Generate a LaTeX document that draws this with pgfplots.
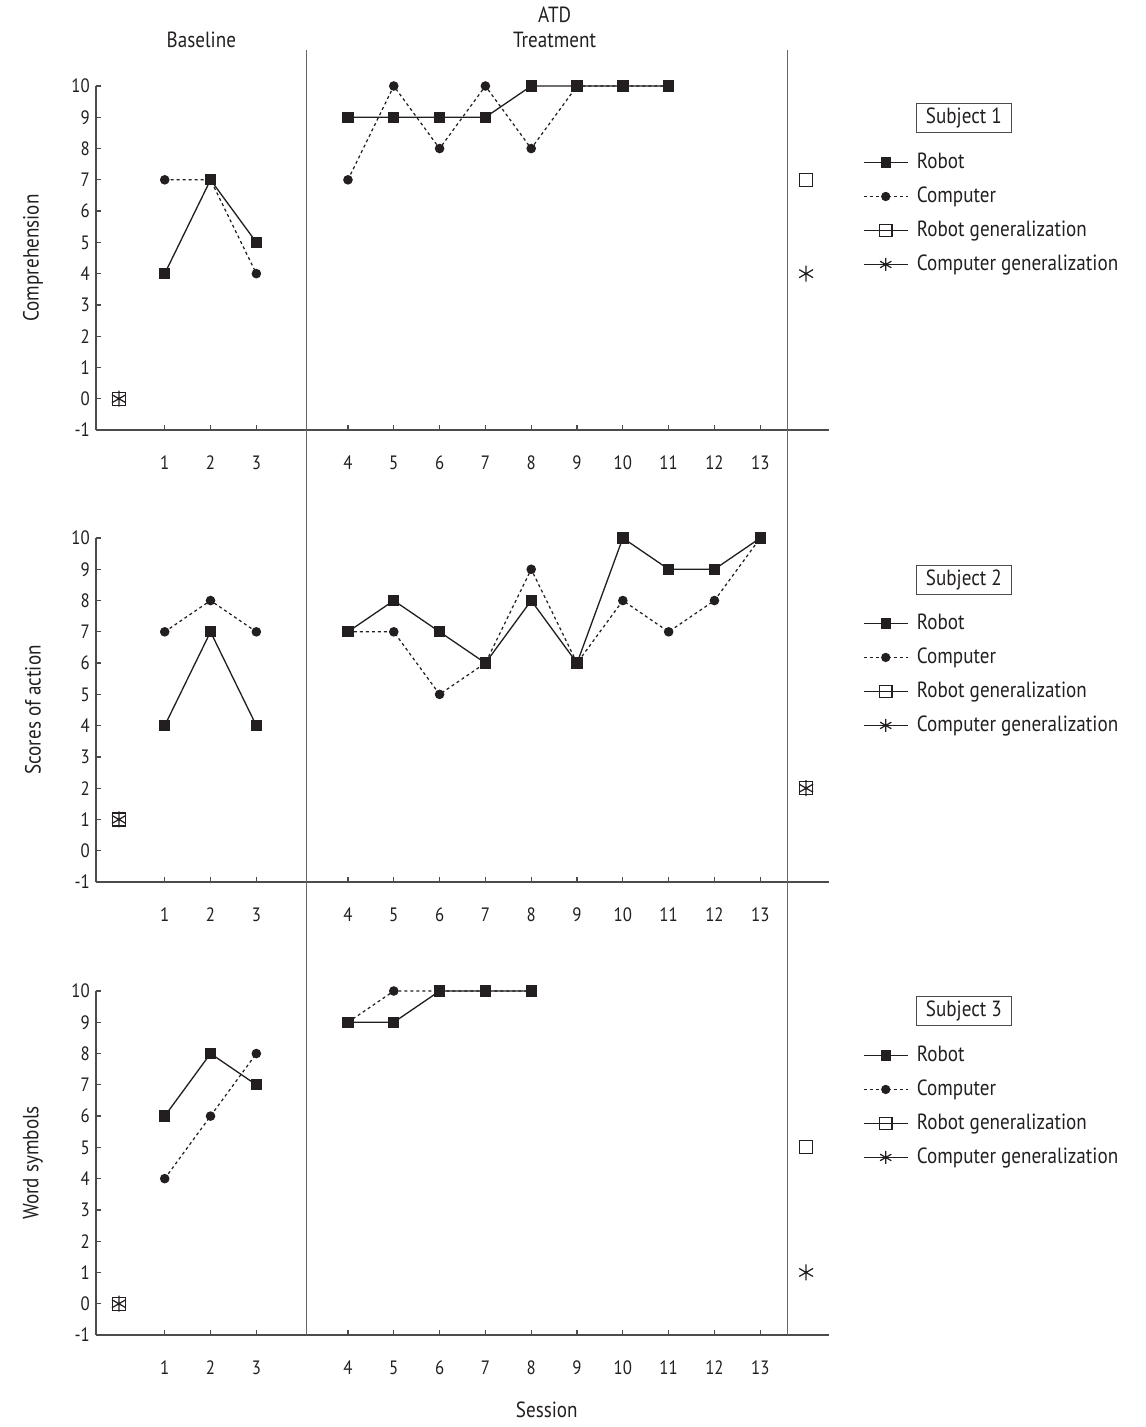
\documentclass[border=0pt]{standalone}
\usepackage{fontspec}
\setmainfont{PT Sans}[FakeStretch=0.87]
\usepackage{pgfplots}
\pgfplotsset{compat=1.18}

\definecolor{axgray}{gray}{0.3}
\definecolor{divgray}{gray}{0.4}
\definecolor{ink}{HTML}{231F20}

\pgfplotsset{
  panel/.style={
    scale only axis, width=14.66cm, height=6.88cm,
    xmin=-0.5, xmax=15.5, ymin=-1, ymax=10,
    axis x line=bottom, axis y line=left,
    axis line style={-, axgray, line width=0.8pt},
    tick align=inside, major tick length=0.1cm,
    tick style={axgray, line width=0.7pt},
    xtick={1,2,3,5,6,7,8,9,10,11,12,13,14},
    xticklabels={1,2,3,4,5,6,7,8,9,10,11,12,13},
    ytick={-1,0,1,2,3,4,5,6,7,8,9,10},
    yticklabels={-1,0,1,2,3,4,5,6,7,8,9,10},
    ticklabel style={font=\fontsize{11}{12}\selectfont, text=ink},
    xticklabel style={yshift=-0.4cm},
    clip=false,
    label style={font=\fontsize{12.5}{14}\selectfont, text=ink},
    ylabel style={at={(axis description cs:-0.086,0.5)}, anchor=center},
    legend cell align=left,
    legend style={draw=none, fill=none, anchor=north west, inner sep=0pt,
      font=\fontsize{12.5}{14}\selectfont, text=ink, row sep=0.18cm,
      nodes={text height=0.32cm, text depth=0.08cm, inner sep=0.05cm},
      /tikz/every odd column/.append style={column sep=0.12cm}},
  },
  robot/.style={ink, line width=0.75pt, mark=square*, mark size=0.1cm, mark options={solid}},
  comp/.style={ink, line width=0.7pt, dash pattern=on 0.06cm off 0.06cm, mark=*, mark size=0.083cm, mark options={solid}},
  rgen/.style={ink, only marks, mark=square, mark size=0.13cm, mark options={line width=0.7pt}},
  cgen/.style={ink, only marks, mark=asterisk, mark size=0.16cm, mark options={line width=0.7pt}},
  legimg/.style={legend image code/.code={%
    \draw[mark repeat=2, mark phase=2, ##1] plot coordinates {(0cm,0cm) (0.44cm,0cm) (0.88cm,0cm)};}},
}

\newcommand{\subjbox}[2]{\node[draw=axgray, line width=0.6pt, minimum width=1.9cm, minimum height=0.58cm, inner sep=0pt, text=ink, font=\fontsize{12.5}{14}\selectfont] at (rel axis cs:1.184,#1) {#2};}

\begin{document}
\begin{tikzpicture}
\path[use as bounding box] (-1.92cm,8.6cm) rectangle (21.0cm,-19.94cm);

% Subject 1
\begin{axis}[panel, at={(0cm,0cm)}, ylabel={Comprehension},
  legend style={at={(rel axis cs:1.046,0.815)}}]
  \addlegendimage{ink, line width=0.75pt, mark=square*, mark size=0.09cm, legimg}
  \addlegendimage{ink, line width=0.7pt, dash pattern=on 0.06cm off 0.06cm, mark=*, mark size=0.08cm, mark options={solid}, legimg}
  \addlegendimage{ink, line width=0.7pt, mark=square, mark size=0.125cm, legimg}
  \addlegendimage{ink, line width=0.7pt, mark=asterisk, mark size=0.13cm, legimg}
  \legend{Robot, Computer, Robot generalization, Computer generalization}
  \addplot[comp, forget plot] coordinates {(1,7) (2,7) (3,4)};
  \addplot[comp, forget plot] coordinates {(5,7) (6,10) (7,8) (8,10) (9,8) (10,10) (11,10) (12,10)};
  \addplot[robot, forget plot] coordinates {(1,4) (2,7) (3,5)};
  \addplot[robot, forget plot] coordinates {(5,9) (6,9) (7,9) (8,9) (9,10) (10,10) (11,10) (12,10)};
  \addplot[rgen, forget plot] coordinates {(0,0) (15,7)};
  \addplot[cgen, forget plot] coordinates {(0,0) (15,4)};
  \draw[divgray, line width=0.7pt] (axis cs:4.1,-1) -- (axis cs:4.1,11.15);
  \draw[divgray, line width=0.7pt] (axis cs:14.6,-1) -- (axis cs:14.6,11.15);
  \node[text=ink, font=\fontsize{12.5}{14}\selectfont] at (axis cs:1.8,11.47) {Baseline};
  \node[text=ink, font=\fontsize{12.5}{14}\selectfont] at (axis cs:9.51,11.47) {Treatment};
  \node[text=ink, font=\fontsize{12.5}{14}\selectfont] at (axis cs:9.51,12.27) {ATD};
  \subjbox{0.907}{Subject 1}
\end{axis}

% Subject 2
\begin{axis}[panel, at={(0cm,-9.04cm)}, ylabel={Scores of action},
  legend style={at={(rel axis cs:1.046,0.789)}}]
  \addlegendimage{ink, line width=0.75pt, mark=square*, mark size=0.09cm, legimg}
  \addlegendimage{ink, line width=0.7pt, dash pattern=on 0.06cm off 0.06cm, mark=*, mark size=0.08cm, mark options={solid}, legimg}
  \addlegendimage{ink, line width=0.7pt, mark=square, mark size=0.125cm, legimg}
  \addlegendimage{ink, line width=0.7pt, mark=asterisk, mark size=0.13cm, legimg}
  \legend{Robot, Computer, Robot generalization, Computer generalization}
  \addplot[comp, forget plot] coordinates {(1,7) (2,8) (3,7)};
  \addplot[comp, forget plot] coordinates {(5,7) (6,7) (7,5) (8,6) (9,9) (10,6) (11,8) (12,7) (13,8) (14,10)};
  \addplot[robot, forget plot] coordinates {(1,4) (2,7) (3,4)};
  \addplot[robot, forget plot] coordinates {(5,7) (6,8) (7,7) (8,6) (9,8) (10,6) (11,10) (12,9) (13,9) (14,10)};
  \addplot[rgen, forget plot] coordinates {(0,1) (15,2)};
  \addplot[cgen, forget plot] coordinates {(0,1) (15,2)};
  \draw[divgray, line width=0.7pt] (axis cs:4.1,-1) -- (axis cs:4.1,13.45);
  \draw[divgray, line width=0.7pt] (axis cs:14.6,-1) -- (axis cs:14.6,13.45);
  \subjbox{0.878}{Subject 2}
\end{axis}

% Subject 3
\begin{axis}[panel, at={(0cm,-18.1cm)}, ylabel={Word symbols}, xlabel={Session},
  xlabel style={at={(axis description cs:0.615,-0.218)}, anchor=center},
  legend style={at={(rel axis cs:1.046,0.850)}}]
  \addlegendimage{ink, line width=0.75pt, mark=square*, mark size=0.09cm, legimg}
  \addlegendimage{ink, line width=0.7pt, dash pattern=on 0.06cm off 0.06cm, mark=*, mark size=0.08cm, mark options={solid}, legimg}
  \addlegendimage{ink, line width=0.7pt, mark=square, mark size=0.125cm, legimg}
  \addlegendimage{ink, line width=0.7pt, mark=asterisk, mark size=0.13cm, legimg}
  \legend{Robot, Computer, Robot generalization, Computer generalization}
  \addplot[comp, forget plot] coordinates {(1,4) (2,6) (3,8)};
  \addplot[comp, forget plot] coordinates {(5,9) (6,10) (7,10) (8,10) (9,10)};
  \addplot[robot, forget plot] coordinates {(1,6) (2,8) (3,7)};
  \addplot[robot, forget plot] coordinates {(5,9) (6,9) (7,10) (8,10) (9,10)};
  \addplot[rgen, forget plot] coordinates {(0,0) (15,5)};
  \addplot[cgen, forget plot] coordinates {(0,0) (15,1)};
  \draw[divgray, line width=0.7pt] (axis cs:4.1,-1) -- (axis cs:4.1,13.49);
  \draw[divgray, line width=0.7pt] (axis cs:14.6,-1) -- (axis cs:14.6,13.49);
  \subjbox{0.942}{Subject 3}
\end{axis}
\end{tikzpicture}
\end{document}
